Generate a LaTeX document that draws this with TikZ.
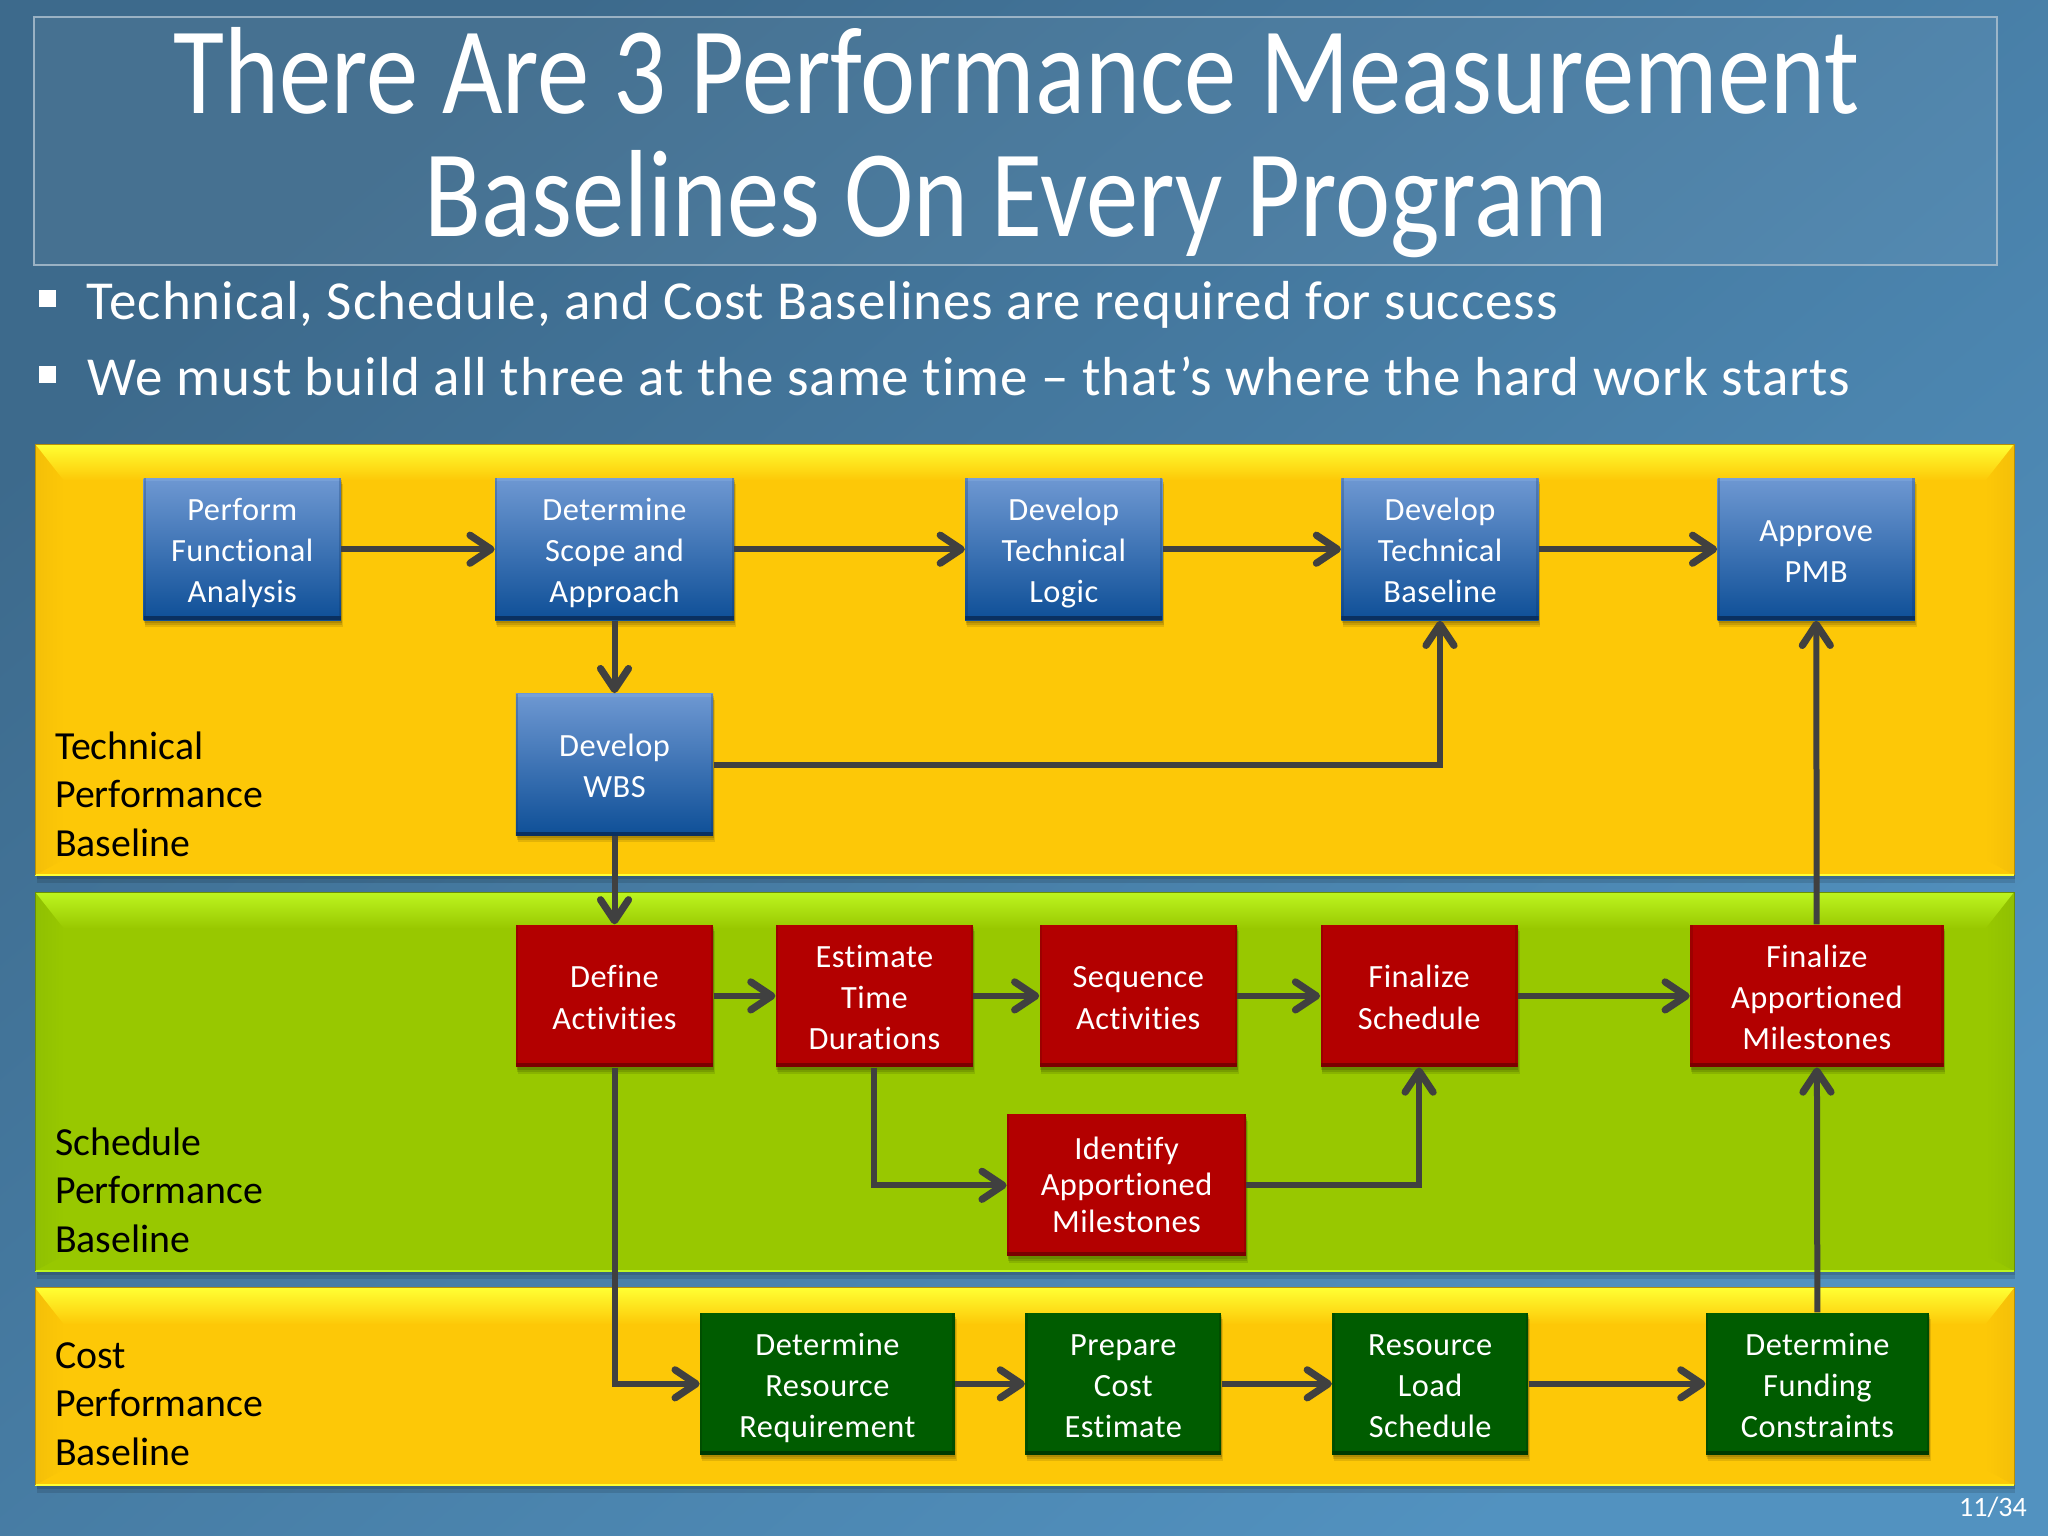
\documentclass[tikz,border=0pt]{standalone}
\usepackage{fontspec}
\setmainfont[Ligatures=NoCommon]{Carlito}
\newfontfamily\titlefont[Ligatures=NoCommon,FakeStretch=0.843]{Carlito}
\newfontfamily\bulfont[Ligatures=NoCommon,LetterSpace=1.75]{Carlito}
\newfontfamily\boxfont[Ligatures=NoCommon,LetterSpace=1.5]{Carlito}
\usetikzlibrary{arrows.meta,shadows,calc}
\definecolor{bgA}{HTML}{3D6A8C}
\definecolor{bgB}{HTML}{5292C0}
\definecolor{connC}{HTML}{404040}
\definecolor{yelBase}{HTML}{FDC807}
\definecolor{yelLight}{HTML}{FFFF33}
\definecolor{yelSide}{HTML}{F4BF08}
\definecolor{grnBase}{HTML}{98C800}
\definecolor{grnLight}{HTML}{BDF520}
\definecolor{grnSide}{HTML}{90C002}
\definecolor{bluetop}{HTML}{6E98D2}
\definecolor{bluebot}{HTML}{0E4F97}
\definecolor{blueedge}{HTML}{0A3060}
\definecolor{bluelight}{HTML}{7FA6DC}
\definecolor{redBase}{HTML}{B30000}
\definecolor{redEdge}{HTML}{7A0000}
\definecolor{boxGreen}{HTML}{005C00}
\definecolor{boxGreenEdge}{HTML}{003A00}
\newcommand\stA{\vrule height 16.5pt depth 0pt width 0pt\relax}
\newcommand\stB{\vrule height 0pt depth 4pt width 0pt\relax}
\tikzset{
  softshadow/.style={
    general shadow={shadow xshift=0.3pt,shadow yshift=-1.2pt,fill=black,opacity=.12},
    general shadow={shadow xshift=0.6pt,shadow yshift=-2.2pt,fill=black,opacity=.12},
    general shadow={shadow xshift=0.9pt,shadow yshift=-3.2pt,fill=black,opacity=.10}},
  flowbox/.style={rectangle,inner sep=0pt,text=white,align=center,
    font=\boxfont\fontsize{16.2}{20.6}\selectfont,softshadow},
  bluebox/.style={flowbox,top color=bluetop,bottom color=bluebot,
    path picture={
      \fill[blueedge] (path picture bounding box.south west) rectangle ($(path picture bounding box.south east)+(0,2pt)$);
      \fill[bluelight,opacity=.6] (path picture bounding box.north west) rectangle ($(path picture bounding box.north east)+(0,-1.5pt)$);
      \fill[blueedge,opacity=.25] (path picture bounding box.south west) rectangle ($(path picture bounding box.north west)+(1.2pt,0)$);
      \fill[blueedge,opacity=.25] (path picture bounding box.south east) rectangle ($(path picture bounding box.north east)+(-1.2pt,0)$);
    }},
  redbox/.style={flowbox,fill=redBase,
    path picture={
      \fill[redEdge] (path picture bounding box.south west) rectangle ($(path picture bounding box.south east)+(0,2pt)$);
      \fill[redEdge,opacity=.4] (path picture bounding box.south west) rectangle ($(path picture bounding box.north west)+(1.2pt,0)$);
      \fill[redEdge,opacity=.4] (path picture bounding box.south east) rectangle ($(path picture bounding box.north east)+(-1.2pt,0)$);
    }},
  greenbox/.style={flowbox,fill=boxGreen,
    path picture={
      \fill[boxGreenEdge] (path picture bounding box.south west) rectangle ($(path picture bounding box.south east)+(0,2pt)$);
      \fill[boxGreenEdge,opacity=.4] (path picture bounding box.south west) rectangle ($(path picture bounding box.north west)+(1.2pt,0)$);
      \fill[boxGreenEdge,opacity=.4] (path picture bounding box.south east) rectangle ($(path picture bounding box.north east)+(-1.2pt,0)$);
    }},
  conn/.style={draw=connC,line width=3pt,-{Straight Barb[length=10.5pt,width=14pt,round,line width=3.6pt]}},
  sidelabel/.style={anchor=north west,inner sep=0pt,align=left,text=black,
    font=\fontsize{19.9}{24.2}\selectfont},
}
% panel: x1,y1,x2,y2,base,light,side
\newcommand\bevelpanel[7]{%
  \fill[black,opacity=.12] (#1+1,#2+3) rectangle (#3+1,#4+3);
  \fill[black,opacity=.12] (#1+1,#2+3) rectangle (#3+1,#4+6);
  \fill[#5] (#1,#2) rectangle (#3,#4);
  \shade[left color=#7,right color=#5] (#1,#2) -- (#1+22,#2+28) -- (#1+22,#4-12) -- (#1,#4) -- cycle;
  \shade[left color=#5,right color=#7] (#3,#2) -- (#3-22,#2+28) -- (#3-22,#4-12) -- (#3,#4) -- cycle;
  \shade[top color=#6,middle color=#6!55!#5,bottom color=#5] (#1,#2) -- (#3,#2) -- (#3-22,#2+28) -- (#1+22,#2+28) -- cycle;
  \draw[#6,line width=.8pt] (#1,#4) -- (#3,#4);
  \draw[#7!75!black,line width=.4pt] (#1,#4) -- (#1,#2) -- (#3,#2) -- (#3,#4);
}
% flow box: style,name,x1,x2,y1,y2,text
\newcommand\flowbx[7]{%
  \node[#1,minimum width={(#4-#3)*0.6531pt},minimum height={(#6-#5)*0.6531pt}] (#2) at ({(#3+#4)/2},{(#5+#6)/2}) {\stA #7\stB};
}
\begin{document}
\begin{tikzpicture}[x=0.6531pt,y=-0.6531pt]
\useasboundingbox (0,0) rectangle (1568,1176);
\shade[left color=bgA,right color=bgB,shading angle=40] (0,0) rectangle (1568,1176);
% header
\node[draw=white!60!bgA,line width=.8pt,fill=white,fill opacity=.05,draw opacity=.8,
  minimum width={(1529-26)*0.6531pt},minimum height={(203-13)*0.6531pt},inner sep=0pt] (hdr) at (777.5,108) {};
\node[text=white,align=center,inner sep=0pt,font=\titlefont\fontsize{62}{61.5}\selectfont] (title) at (778,109)
  {There Are 3 Performance Measurement\\Baselines On Every Program};
% bullets
\node[fill=white,inner sep=0pt,minimum size=8.5pt] (b1) at (36.5,228.5) {};
\node[fill=white,inner sep=0pt,minimum size=8.5pt] (b2) at (36.5,287) {};
\node[anchor=base west,inner sep=0pt,text=white,font=\bulfont\fontsize{27.5}{30}\selectfont] (t1) at (66,245) {Technical, Schedule, and Cost Baselines are required for success};
\node[anchor=base west,inner sep=0pt,text=white,font=\bulfont\fontsize{27.5}{30}\selectfont] (t2) at (67,303) {We must build all three at the same time – that’s where the hard work starts};
% panels
\bevelpanel{27}{340}{1542}{670}{yelBase}{yelLight}{yelSide}
\bevelpanel{27}{683}{1542}{973}{grnBase}{grnLight}{grnSide}
\bevelpanel{27}{986}{1542}{1137}{yelBase}{yelLight}{yelSide}
% side labels
\node[sidelabel] (lt) at (42,560) {Technical\\Performance\\Baseline};
\node[sidelabel] (ls) at (42,863) {Schedule\\Performance\\Baseline};
\node[sidelabel] (lc) at (42,1027.5) {Cost\\Performance\\Baseline};
% boxes
\flowbx{bluebox}{perf}{110}{261}{366}{475}{Perform\\Functional\\Analysis}
\flowbx{bluebox}{scope}{379}{562}{366}{475}{Determine\\Scope and\\Approach}
\flowbx{bluebox}{logic}{739}{890}{366}{475}{Develop\\Technical\\Logic}
\flowbx{bluebox}{tb}{1027}{1178}{366}{475}{Develop\\Technical\\Baseline}
\flowbx{bluebox}{pmb}{1315}{1466}{366}{475}{Approve\\PMB}
\flowbx{bluebox}{wbs}{395}{546}{531}{640}{Develop\\WBS}
\flowbx{redbox}{define}{395}{546}{708}{817}{Define\\Activities}
\flowbx{redbox}{est}{594}{745}{708}{817}{Estimate\\Time\\Durations}
\flowbx{redbox}{seq}{796}{947}{708}{817}{Sequence\\Activities}
\flowbx{redbox}{fin}{1011}{1162}{708}{817}{Finalize\\Schedule}
\flowbx{redbox}{fam}{1294}{1488}{708}{817}{Finalize\\Apportioned\\Milestones}
\flowbx{redbox}{iam}{771}{954}{853}{962}{Identify\\[-2.3pt]Apportioned\\[-2.3pt]Milestones\vrule height 0pt depth 6pt width 0pt}
\flowbx{greenbox}{drr}{536}{731}{1005}{1114}{Determine\\Resource\\Requirement}
\flowbx{greenbox}{pce}{785}{935}{1005}{1114}{Prepare\\Cost\\Estimate}
\flowbx{greenbox}{rls}{1020}{1170}{1005}{1114}{Resource\\Load\\Schedule}
\flowbx{greenbox}{dfc}{1306}{1477}{1005}{1114}{Determine\\Funding\\Constraints}
% connectors
\draw[conn] (perf) -- (scope);
\draw[conn] (scope) -- (logic);
\draw[conn] (logic) -- (tb);
\draw[conn] (tb) -- (pmb);
\draw[conn] (scope) -- (wbs);
\draw[conn] (wbs.east) -| (tb.south);
\draw[conn] (wbs) -- (define);
\draw[conn] (define) -- (est);
\draw[conn] (est) -- (seq);
\draw[conn] (seq) -- (fin);
\draw[conn] (fin) -- (fam);
\draw[conn] (est.south) |- (iam.west);
\draw[conn] (iam.east) -| (fin.south);
\draw[conn] (define.south) |- (drr.west);
\draw[conn] (drr) -- (pce);
\draw[conn] (pce) -- (rls);
\draw[conn] (rls) -- (dfc);
\draw[conn] (dfc) -- (fam);
\draw[conn] (fam) -- (pmb);
\node[anchor=base east,inner sep=0pt,text=white,font=\fontsize{14}{16}\selectfont] (pg) at (1552,1161) {11/34};
\end{tikzpicture}
\end{document}
